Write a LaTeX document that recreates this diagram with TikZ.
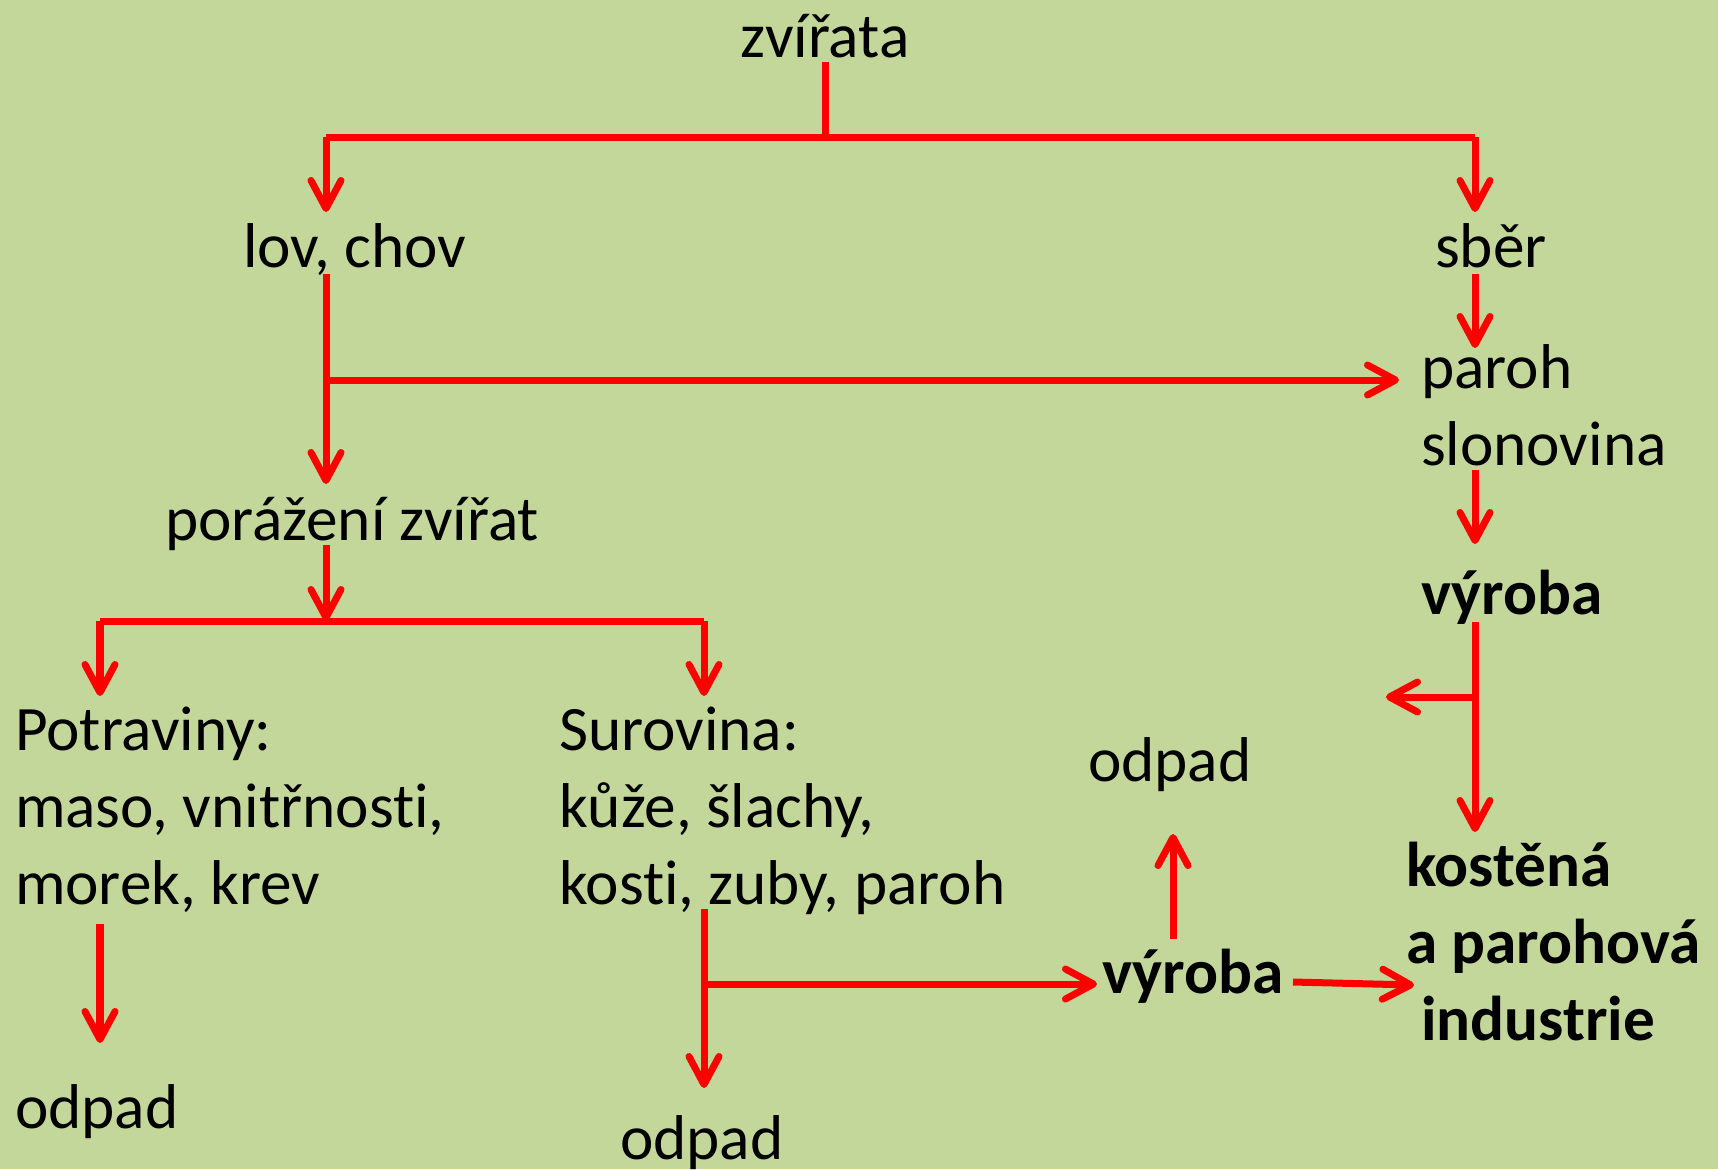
\documentclass[tikz,border=0pt]{standalone}
\usepackage{fontspec}
\setmainfont{Carlito}[Ligatures={NoCommon}]
\usetikzlibrary{arrows.meta}
\definecolor{bgc}{RGB}{196,215,155}
\definecolor{arc}{RGB}{255,0,0}
\begin{document}
\begin{tikzpicture}[x=0.01cm,y=-0.01cm,
  txt/.style={inner sep=0pt,outer sep=0pt,anchor=base west,align=left,font=\fontsize{18}{21.8}\selectfont},
  btxt/.style={txt,font=\fontsize{18}{21.8}\selectfont\bfseries},
  ln/.style={draw=arc,line width=0.07cm},
  arr/.style={ln,-{Straight Barb[length=0.28cm,width=0.30cm,round]}}]
\fill[bgc] (0,0) rectangle (1718,1169);
\useasboundingbox (0,0) rectangle (1718,1169);
% text nodes (base anchor of a multi-line node = its last line)
\node[txt,anchor=base] (zv) at (825,57) {zvířata};
\node[txt] (lov) at (243,267) {lov, chov};
\node[txt] (sber) at (1435,267) {sběr};
\node[txt] (paroh) at (1421,465) {paroh\\slonovina};
\node[btxt] (vyr1) at (1421,614) {výroba};
\node[txt] (por) at (165,540) {porážení zvířat};
\node[txt] (pot) at (15,904) {Potraviny:\\maso, vnitřnosti,\\morek, krev};
\node[txt] (sur) at (559,904) {Surovina:\\kůže, šlachy,\\kosti, zuby, paroh};
\node[txt] (odp1) at (15,1128) {odpad};
\node[txt] (odp2) at (620,1159) {odpad};
\node[txt] (odp3) at (1088,781) {odpad};
\node[btxt] (vyr2) at (1102,993) {výroba};
\node[btxt] (kost) at (1406,1040) {kostěná\\a parohová\\\hspace*{0.15cm}industrie};
% junction coordinates
\coordinate (zvS) at (825,62);
\coordinate (jT) at (825,137);
\coordinate (jTL) at (326,137);
\coordinate (jTR) at (1475,137);
\coordinate (lovN) at (326,212);
\coordinate (sberN) at (1475,212);
\coordinate (lovS) at (326,274);
\coordinate (jL) at (326,380);
\coordinate (porN) at (326,484);
\coordinate (parW) at (1399,380);
\coordinate (sberS) at (1475,274);
\coordinate (parN) at (1475,348);
\coordinate (parS) at (1475,470);
\coordinate (vyr1N) at (1475,544);
\coordinate (porS) at (326,545);
\coordinate (jM) at (326,621);
\coordinate (jML) at (100,621);
\coordinate (jMR) at (704,621);
\coordinate (potN) at (100,696);
\coordinate (surN) at (704,696);
\coordinate (potS) at (100,924);
\coordinate (odp1N) at (100,1043);
\coordinate (surS) at (704,909);
\coordinate (jS) at (704,984);
\coordinate (odp2N) at (704,1088);
\coordinate (vyr2W) at (1097,984);
\coordinate (vyr2N) at (1173,939);
\coordinate (odp3S) at (1173,834);
\coordinate (vyr2E) at (1293,982);
\coordinate (kostW) at (1414,985);
\coordinate (vyr1S) at (1475,622);
\coordinate (jR) at (1475,697);
\coordinate (kostN) at (1475,832);
\coordinate (odpL) at (1386,697);
% connectors
\draw[ln] (zvS) -- (jT);
\draw[ln] (jTL) -- (jTR);
\draw[arr] (jTL) -- (lovN);
\draw[arr] (jTR) -- (sberN);
\draw[arr] (lovS) -- (porN);
\draw[arr] (jL) -- (parW);
\draw[arr] (sberS) -- (parN);
\draw[arr] (parS) -- (vyr1N);
\draw[arr] (porS) -- (jM);
\draw[ln] (jML) -- (jMR);
\draw[arr] (jML) -- (potN);
\draw[arr] (jMR) -- (surN);
\draw[arr] (potS) -- (odp1N);
\draw[arr] (surS) -- (odp2N);
\draw[arr] (jS) -- (vyr2W);
\draw[arr] (vyr2N) -- (odp3S);
\draw[arr] (vyr2E) -- (kostW);
\draw[arr] (vyr1S) -- (kostN);
\draw[arr] (jR) -- (odpL);
\end{tikzpicture}
\end{document}
